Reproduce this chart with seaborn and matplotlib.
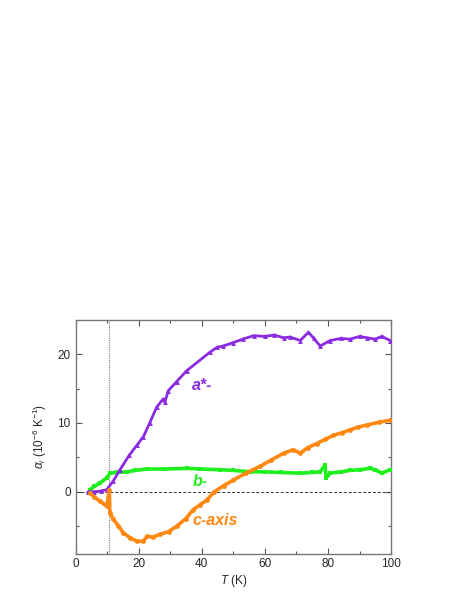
import numpy as np
import pandas as pd
import matplotlib
matplotlib.use('Agg')
import matplotlib.pyplot as plt
import seaborn as sns

# 읽어낸 값 (T [K], alpha [1e-6 /K])
T_a = [4.0, 6.0, 8.0, 9.9, 12.0, 14.1, 17.0, 19.5, 21.5, 23.5, 25.7, 27.8, 28.3, 29.4, 32.0, 35.2,
       42.6, 44.8, 46.8, 50.0, 53.0, 56.4, 60.0, 63.0, 65.9, 68.0, 71.2, 73.8, 75.5, 77.5,
       80.7, 84.0, 87.0, 90.0, 92.3, 95.0, 97.0, 99.7]
alpha_a = [0.0, 0.0, 0.1, 0.3, 1.6, 3.2, 5.3, 6.8, 8.0, 10.0, 12.3, 13.5, 13.0, 14.7, 16.0, 17.6,
           20.3, 21.0, 21.2, 21.7, 22.2, 22.7, 22.6, 22.8, 22.4, 22.5, 22.0, 23.2, 22.3, 21.2,
           22.0, 22.3, 22.2, 22.6, 22.4, 22.2, 22.6, 22.0]

T_b = [4.6, 6.0, 7.8, 9.9, 10.9, 13.0, 16.2, 19.0, 22.6, 28.0, 35.2, 39.5, 45.8, 50.0, 55.3,
       60.0, 65.0, 71.2, 75.0, 77.5, 79.1, 79.4, 80.7, 84.0, 87.0, 90.0, 93.3, 95.0, 97.0, 99.7]
alpha_b = [0.3, 0.8, 1.3, 2.0, 2.7, 2.8, 2.9, 3.1, 3.3, 3.3, 3.4, 3.3, 3.2, 3.1, 2.9,
           2.9, 2.8, 2.7, 2.8, 2.9, 3.9, 2.0, 2.7, 2.9, 3.1, 3.2, 3.4, 3.2, 2.7, 3.2]

T_c = [4.6, 6.0, 7.8, 9.9, 10.7, 10.9, 12.0, 13.6, 15.2, 17.3, 19.4, 21.5, 22.6, 24.5, 26.8,
       29.5, 32.1, 35.0, 37.3, 39.5, 41.6, 44.0, 47.0, 50.0, 54.0, 58.5, 62.0, 65.9, 69.0,
       71.2, 73.5, 76.4, 79.0, 81.7, 84.5, 87.0, 89.5, 92.3, 96.0, 99.7]
alpha_c = [-0.2, -0.8, -1.4, -2.1, 0.3, -3.1, -4.0, -5.0, -6.0, -6.7, -7.2, -7.2, -6.5, -6.6, -6.2,
           -5.8, -5.0, -3.9, -2.6, -1.9, -1.2, 0.0, 0.9, 1.7, 2.7, 3.7, 4.6, 5.6, 6.1,
           5.6, 6.4, 7.0, 7.6, 8.2, 8.6, 9.0, 9.4, 9.7, 10.1, 10.4]

T_marker = 10.5

df = pd.concat([
    pd.DataFrame({'T': T_a, 'alpha': alpha_a, 'axis': 'a'}),
    pd.DataFrame({'T': T_b, 'alpha': alpha_b, 'axis': 'b'}),
    pd.DataFrame({'T': T_c, 'alpha': alpha_c, 'axis': 'c'}),
])

sns.set_style('ticks')
plt.rcParams['font.family'] = ['Liberation Sans', 'DejaVu Sans']
plt.rcParams['mathtext.fontset'] = 'custom'
plt.rcParams['mathtext.it'] = 'Liberation Sans:italic'
plt.rcParams['mathtext.rm'] = 'Liberation Sans'

colors = {'a': '#8a2be2', 'b': '#1ef01e', 'c': '#ff8811'}
markers = {'a': '^', 'b': 's', 'c': 'o'}
widths = {'a': 2.0, 'b': 2.6, 'c': 2.6}

fig = plt.figure(figsize=(4.69, 6.07), dpi=100)
ax = fig.add_axes([0.161, 0.088, 0.673, 0.385])

ax.axhline(0, color='#333333', lw=0.7, ls=(0, (3, 2)), zorder=1)
ax.axvline(T_marker, color='#777777', lw=0.8, ls=(0, (1, 1)), zorder=1)

for key in ['b', 'a', 'c']:
    sub = df[df['axis'] == key]
    sns.lineplot(data=sub, x='T', y='alpha', ax=ax, color=colors[key], lw=widths[key],
                 marker=markers[key], markersize=3.5, markeredgewidth=0, zorder=3)

lab = dict(fontsize=11.5, fontstyle='italic', fontweight='bold', va='top', ha='left')
ax.text(37.0, 16.6, 'a*-', color=colors['a'], **lab)
ax.text(37.0, 2.6, 'b-', color=colors['b'], **lab)
ax.text(37.0, -3.1, 'c-axis', color=colors['c'], **lab)

ax.set_xlim(0, 100)
ax.set_ylim(-9, 25)
ax.set_xticks([0, 20, 40, 60, 80, 100])
ax.set_xticks([10, 30, 50, 70, 90], minor=True)
ax.set_yticks([0, 10, 20])
ax.set_yticks([-5, 5, 15], minor=True)
ax.tick_params(which='both', direction='in', top=True, right=True, labelsize=8.5,
               color='#555555', width=0.8)
ax.tick_params(which='major', length=4)
ax.tick_params(which='minor', length=2.5)
for s in ax.spines.values():
    s.set_color('#777777')
    s.set_linewidth(1.0)

ax.set_xlabel(r'$T$ (K)', fontsize=8.5, labelpad=2)
ax.set_ylabel(r'$\alpha_i$ (10$^{-6}$ K$^{-1}$)', fontsize=8.5, labelpad=6)

fig.savefig('out.png', dpi=100)
